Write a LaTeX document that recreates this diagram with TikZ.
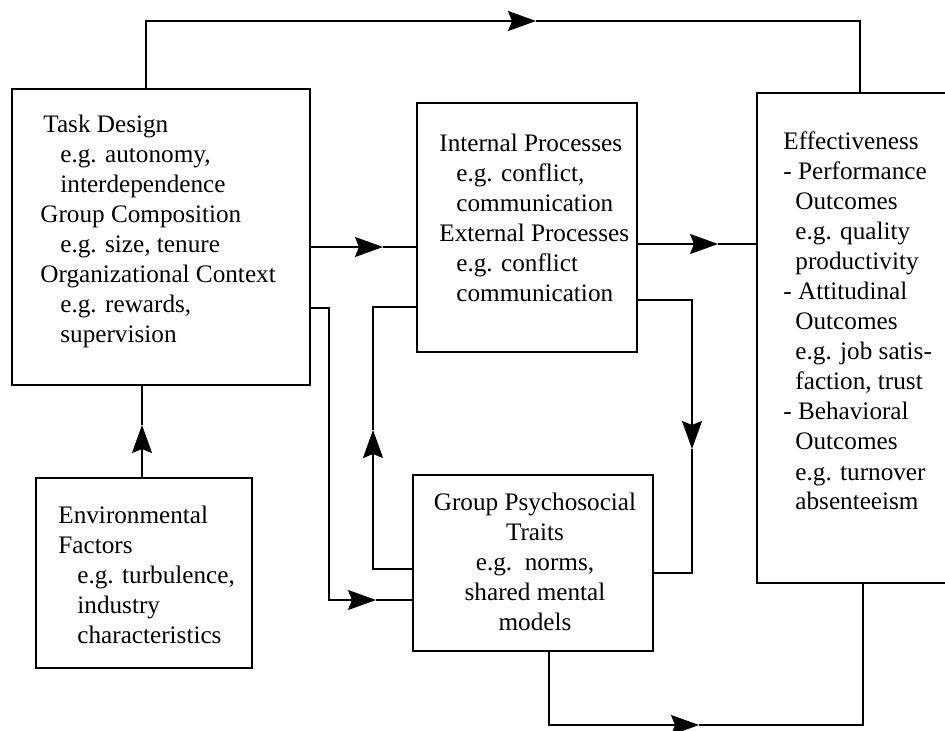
\documentclass[tikz,border=0pt]{standalone}
\usepackage{fontspec}
\setmainfont{Liberation Serif}
\usetikzlibrary{arrows.meta,fit}
\newcommand{\tlines}[1]{\begin{tabular}[t]{@{}l@{}}#1\end{tabular}}
\newcommand{\tclines}[1]{\begin{tabular}[t]{@{}c@{}}#1\end{tabular}}
\newcommand{\ind}[1]{\hspace*{#1pt}}
\begin{document}
\begin{tikzpicture}[x=0.5pt,y=-0.5pt,
  box/.style={draw, line width=1.1pt, inner sep=0pt},
  conn/.style={line width=1pt},
  arr/.style={conn, -{Stealth[length=14pt,width=10pt,inset=2pt]}},
  txt/.style={anchor=base west, inner sep=0pt, font=\fontsize{12.6}{15}\selectfont}]
\useasboundingbox (0,0) rectangle (945,731);
\fill[white] (0,0) rectangle (945,731);
\clip (0,0) rectangle (945,731);

% boxes
\node[box, fit={(12,89) (310,385)}] (td) {};
\node[box, fit={(36,478) (252,668)}] (env) {};
\node[box, fit={(417,103) (637,352)}] (int) {};
\node[box, fit={(413,475) (653,651)}] (gps) {};
\node[box, fit={(757,93) (1000,583)}] (eff) {};

% texts
\node[txt] (tdt) at (40,133) {\tlines{\ind{1.5}Task Design\\ \ind{10}e.g. autonomy,\\ \ind{10}interdependence\\ Group Composition\\ \ind{10}e.g. size, tenure\\ Organizational Context\\ \ind{10}e.g. rewards,\\ \ind{10}supervision}};
\node[txt] (envt) at (58,523) {\tlines{Environmental\\ Factors\\ \ind{9.5}e.g. turbulence,\\ \ind{9.5}industry\\ \ind{9.5}characteristics}};
\node[txt] (intt) at (439,152) {\tlines{Internal Processes\\ \ind{8.5}e.g. conflict,\\ \ind{8.5}communication\\ External Processes\\ \ind{8.5}e.g. conflict\\ \ind{8.5}communication}};
\node[txt] (efft) at (783,150) {\tlines{Effectiveness\\ - Performance\\ \ind{6}Outcomes\\ \ind{6}e.g. quality\\ \ind{6}productivity\\ - Attitudinal\\ \ind{6}Outcomes\\ \ind{6}e.g. job satis-\\ \ind{6}faction, trust\\ - Behavioral\\ \ind{6}Outcomes\\ \ind{6}e.g. turnover\\ \ind{6}absenteeism}};
\node[txt, anchor=base] (gpst) at (535,510) {\tclines{Group Psychosocial\\ Traits\\ e.g.\ \ norms,\\ shared mental\\ models}};

% top feedback: Task Design -> Effectiveness
\coordinate (a1) at (146,21);
\coordinate (a1t) at (536,21);
\coordinate (a1e) at (860,21);
\draw[arr] (td.north -| a1) -- (a1) -- (a1t);
\draw[conn] (a1t) -- (a1e) -- (eff.north -| a1e);

% Task Design -> Internal Processes
\coordinate (b) at (383,247);
\draw[arr] (td.east |- b) -- (b);
\draw[conn] (b) -- (int.west |- b);

% Internal Processes -> Effectiveness
\coordinate (c) at (718,244);
\draw[arr] (int.east |- c) -- (c);
\draw[conn] (c) -- (eff.west |- c);

% Task Design -> Group Psychosocial Traits
\coordinate (d1) at (329,308);
\coordinate (d2) at (329,600);
\coordinate (dt) at (376,600);
\draw[arr] (td.east |- d1) -- (d1) -- (d2) -- (dt);
\draw[conn] (dt) -- (gps.west |- dt);

% Group -> Internal (left loop)
\coordinate (e1) at (373,569);
\coordinate (et) at (373,430);
\coordinate (e2) at (373,307);
\draw[arr] (gps.west |- e1) -- (e1) -- (et);
\draw[conn] (et) -- (e2) -- (int.west |- e2);

% Internal -> Group (right loop)
\coordinate (f1) at (692,300);
\coordinate (ft) at (692,449);
\coordinate (f2) at (692,573);
\draw[arr] (int.east |- f1) -- (f1) -- (ft);
\draw[conn] (ft) -- (f2) -- (gps.east |- f2);

% Group -> Effectiveness (bottom)
\coordinate (g1) at (549,725);
\coordinate (gt) at (699,725);
\coordinate (g2) at (863,725);
\draw[arr] (gps.south -| g1) -- (g1) -- (gt);
\draw[conn] (gt) -- (g2) -- (eff.south -| g2);

% Environmental -> Task Design
\coordinate (ht) at (142,425);
\draw[arr] (env.north -| ht) -- (ht);
\draw[conn] (ht) -- (td.south -| ht);
\end{tikzpicture}
\end{document}
